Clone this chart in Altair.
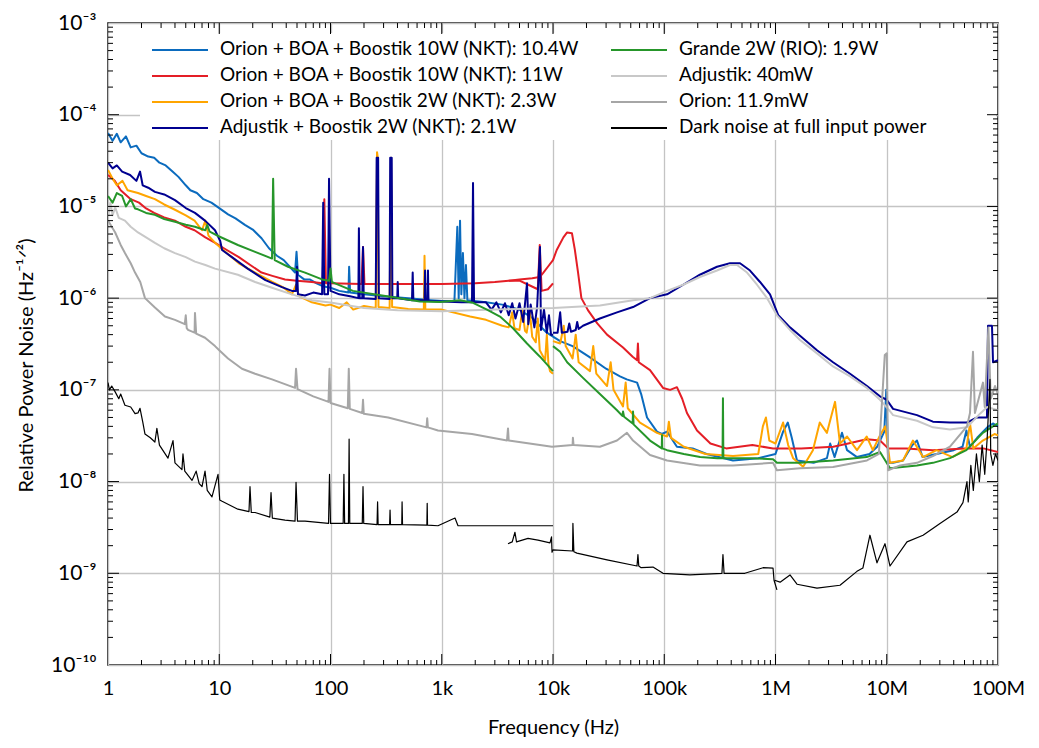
import altair as alt
import pandas as pd

W, H = 890, 642

SERIES = [
    "Orion + BOA + Boostik 10W (NKT): 10.4W",
    "Orion + BOA + Boostik 10W (NKT): 11W",
    "Orion + BOA + Boostik 2W (NKT): 2.3W",
    "Adjustik + Boostik 2W (NKT): 2.1W",
    "Grande 2W (RIO): 1.9W",
    "Adjustik: 40mW",
    "Orion: 11.9mW",
    "Dark noise at full input power",
]
COLORS = ["#0B6BBE", "#E41E26", "#FFA500", "#000090", "#26962A", "#C8C8C8", "#A6A6A6", "#000000"]
WIDTHS = [2, 2, 2, 2, 2, 2, 2, 1.2]

X_TICKS = [1, 10, 100, 1e3, 1e4, 1e5, 1e6, 1e7, 1e8]
X_LABELS = ["1", "10", "100", "1k", "10k", "100k", "1M", "10M", "100M"]
Y_TICKS = [1e-10, 1e-9, 1e-8, 1e-7, 1e-6, 1e-5, 1e-4, 1e-3]
Y_LABELS = ["10⁻¹⁰", "10⁻⁹", "10⁻⁸", "10⁻⁷", "10⁻⁶", "10⁻⁵", "10⁻⁴", "10⁻³"]

# ---- series: (frequency Hz, relative power noise) ----
blue = [
    (1.0, 6.3e-5), (1.1, 5.2e-5), (1.2, 6.2e-5), (1.3, 5.0e-5), (1.45, 5.8e-5), (1.6, 4.4e-5),
    (1.8, 4.6e-5), (2.0, 3.8e-5), (2.3, 3.5e-5), (2.6, 3.4e-5), (2.9, 3.0e-5), (3.3, 2.8e-5),
    (3.8, 2.4e-5), (4.3, 2.1e-5), (5.0, 1.7e-5), (5.5, 1.5e-5), (6.3, 1.4e-5), (7.2, 1.2e-5),
    (8.5, 1.1e-5), (10, 9.6e-6), (12, 8.2e-6), (14, 7.4e-6), (17, 6.3e-6), (20, 5.6e-6),
    (24, 4.5e-6), (28, 3.5e-6), (33, 2.9e-6), (38, 2.6e-6), (43, 2.2e-6), (48, 1.9e-6),
    (49.5, 3.2e-6), (51, 1.8e-6), (58, 1.6e-6), (65, 1.6e-6), (75, 1.45e-6), (85, 1.35e-6),
    (100, 1.3e-6), (120, 1.2e-6), (145, 1.15e-6), (147, 2.2e-6), (150, 1.15e-6), (200, 1.1e-6),
    (300, 1.05e-6), (500, 1.0e-6), (800, 9.5e-7), (1000, 9.3e-7), (1300, 9.3e-7), (1380, 6e-6),
    (1420, 1e-6), (1460, 7e-6), (1500, 1.1e-6), (1550, 3.1e-6), (1600, 1.0e-6), (1650, 2.3e-6),
    (1700, 9.5e-7), (2500, 9e-7), (3500, 8.5e-7), (5000, 7.5e-7), (6600, 6e-7), (7600, 5e-7),
    (8800, 4.2e-7), (10000, 3.8e-7), (11600, 3.4e-7), (15000, 3.0e-7), (21000, 2.3e-7),
    (30000, 1.7e-7), (40000, 1.4e-7), (46000, 1.3e-7), (57000, 1.2e-7), (62000, 9e-8),
    (70000, 5e-8), (86000, 3.5e-8), (95000, 3.3e-8), (106000, 3.5e-8), (130000, 2.4e-8),
    (180000, 2.3e-8), (240000, 2e-8), (415000, 1.7e-8), (700000, 1.8e-8), (1.0e6, 2e-8),
    (1.17e6, 3.5e-8), (1.29e6, 4.4e-8), (1.4e6, 3e-8), (1.56e6, 1.7e-8), (2.2e6, 1.6e-8),
    (2.9e6, 1.8e-8), (3.1e6, 2.6e-8), (3.4e6, 1.85e-8), (3.96e6, 3.4e-8), (4.4e6, 2.2e-8),
    (5.4e6, 1.85e-8), (7.0e6, 2e-8), (8.2e6, 2.4e-8), (9.5e6, 3.5e-8), (9.9e6, 1.0e-7),
    (10.3e6, 1.6e-8), (11.4e6, 1.6e-8), (14e6, 1.7e-8), (17e6, 2.5e-8), (18.7e6, 2.8e-8),
    (21e6, 1.85e-8), (28e6, 2e-8), (40e6, 2.2e-8), (48e6, 2.4e-8), (52e6, 3.6e-8), (56e6, 2.4e-8),
    (65e6, 3e-8), (80e6, 3.9e-8), (90e6, 4.3e-8), (100e6, 4e-8),
]

red_a = [
    (1, 2.2e-5), (1.15, 1.9e-5), (1.3, 1.5e-5), (1.6, 1.2e-5), (1.9, 1.1e-5), (2.2, 9.5e-6),
    (2.6, 8.5e-6), (3.2, 7.6e-6), (4.0, 7e-6), (5.0, 6e-6), (6.0, 5.5e-6), (7.5, 4.6e-6),
    (9.2, 4e-6), (11, 3.5e-6), (15, 2.8e-6), (19, 2.3e-6), (24, 1.9e-6), (30, 1.75e-6),
    (39, 1.6e-6), (50, 1.55e-6), (68, 1.5e-6), (85, 1.45e-6), (88, 1.2e-5), (91, 1.45e-6),
    (100, 1.45e-6), (190, 1.43e-6), (196, 3.6e-6), (202, 1.43e-6), (400, 1.43e-6),
    (1000, 1.43e-6), (2000, 1.45e-6), (3000, 1.5e-6), (4000, 1.55e-6), (5000, 1.55e-6),
    (6000, 1.4e-6), (7300, 1.25e-6), (7600, 3.8e-6), (7900, 1.2e-6), (9000, 1.25e-6),
    (10000, 1.45e-6),
]
red_b = [
    (4000, 1.55e-6), (5000, 1.6e-6), (6500, 1.65e-6), (7600, 1.7e-6), (8200, 1.9e-6),
    (9000, 2.2e-6), (10000, 2.6e-6), (10800, 3.35e-6), (12400, 4.6e-6), (13400, 5.2e-6),
    (14800, 5.1e-6), (15700, 3.4e-6), (16800, 1.9e-6), (18000, 1.0e-6), (20600, 7.4e-7),
    (25000, 5.3e-7), (30600, 4e-7), (42600, 2.9e-7), (52000, 2.3e-7), (57000, 2.1e-7),
    (58000, 3.2e-7), (59000, 2.0e-7), (74500, 1.64e-7), (97500, 1.05e-7), (113000, 1.0e-7),
    (130000, 1.07e-7), (145000, 8e-8), (160000, 5.6e-8), (197000, 3.6e-8), (260000, 2.6e-8),
    (360000, 2.3e-8), (620000, 2.5e-8), (950000, 2.3e-8), (1.7e6, 2.3e-8), (3.3e6, 2.4e-8),
    (4.5e6, 2.6e-8), (6.6e6, 2.9e-8), (8.7e6, 2.8e-8), (10.3e6, 2.3e-8), (15e6, 2.3e-8),
    (26e6, 2.2e-8), (50e6, 2.3e-8), (74e6, 2.3e-8), (100e6, 2.1e-8),
]

orange_a = [
    (1, 2.5e-5), (1.1, 2.0e-5), (1.2, 1.7e-5), (1.35, 1.9e-5), (1.5, 1.5e-5), (1.86, 1.4e-5),
    (2.2, 1.3e-5), (2.64, 1.2e-5), (3.2, 1.05e-5), (4.0, 9.2e-6), (5.0, 8e-6), (6.0, 7e-6),
    (7.0, 5.5e-6), (7.5, 7e-6), (8.0, 4.8e-6), (9.2, 4e-6), (11, 3.3e-6), (15, 2.4e-6),
    (21, 1.9e-6), (30, 1.5e-6), (38, 1.3e-6), (45, 1.1e-6), (49, 1.4e-6), (52, 1.05e-6),
    (68, 9e-7), (90, 8.3e-7), (100, 8.5e-7), (120, 7.8e-7), (140, 9e-7), (160, 7.5e-7),
    (200, 8.2e-7), (255, 7.8e-7), (262, 3.9e-5), (266, 3.4e-5), (270, 8e-7), (340, 7.8e-7),
    (350, 3.4e-5), (358, 8e-7), (500, 7.6e-7), (690, 7.5e-7), (700, 2.9e-6), (712, 7.5e-7),
    (1000, 7.5e-7), (1800, 6.3e-7), (2500, 5.8e-7), (3500, 5e-7), (4000, 4.8e-7),
    (4300, 7e-7), (4500, 4.7e-7), (5000, 4.5e-7), (5300, 7.5e-7), (5600, 4.4e-7),
    (5800, 4.2e-7), (6200, 7e-7), (6500, 3.8e-7), (7000, 3.3e-7), (7300, 6e-7), (7600, 2.7e-7),
    (8500, 2.1e-7), (8800, 4e-7), (9100, 1.9e-7), (9400, 1.6e-7), (10000, 1.5e-7),
]
orange_b = [
    (10000, 3.4e-7), (11600, 3.2e-7), (12500, 5e-7), (13000, 3e-7), (15000, 2.2e-7),
    (16000, 4e-7), (17000, 2e-7), (21500, 1.6e-7), (23000, 3e-7), (24500, 1.5e-7),
    (30600, 1.1e-7), (33000, 2e-7), (35000, 1e-7), (42600, 6.6e-8), (45000, 1.2e-7),
    (47000, 6.3e-8), (60500, 4.4e-8), (86000, 3.4e-8), (106000, 3.1e-8), (110000, 4.5e-8),
    (115000, 3e-8), (150000, 2.4e-8), (235000, 2e-8), (415000, 1.9e-8), (700000, 2.0e-8),
    (770000, 4e-8), (820000, 5e-8), (880000, 2.8e-8), (1.0e6, 2.6e-8), (1.17e6, 4.4e-8),
    (1.3e6, 2.5e-8), (1.44e6, 1.8e-8), (1.77e6, 1.45e-8), (2.17e6, 2.2e-8), (2.5e6, 4.4e-8),
    (2.9e6, 3.4e-8), (3.43e6, 7.4e-8), (3.8e6, 2.6e-8), (4.4e6, 3.1e-8), (5.4e6, 2.2e-8),
    (6.6e6, 3.1e-8), (7.5e6, 2.2e-8), (8.6e6, 3.1e-8), (9.7e6, 4e-8), (10.7e6, 1.6e-8),
    (14e6, 1.7e-8), (17.2e6, 2.8e-8), (21.2e6, 1.85e-8), (28e6, 2.2e-8), (39e6, 1.85e-8),
    (52e6, 2.3e-8), (56e6, 4.3e-8), (60e6, 2.3e-8), (73e6, 2.8e-8), (93e6, 3.3e-8),
    (100e6, 3.2e-8),
]

navy_a = [
    (1, 3.0e-5), (1.1, 2.6e-5), (1.2, 2.8e-5), (1.34, 2.4e-5), (1.58, 2.2e-5), (1.8, 1.9e-5),
    (1.94, 2.4e-5), (2.05, 1.7e-5), (2.3, 1.6e-5), (2.64, 1.44e-5), (3.2, 1.35e-5),
    (4.0, 1.17e-5), (5.0, 9.6e-6), (6.05, 8.5e-6), (7.45, 7e-6), (9.16, 5.5e-6), (10.2, 4.2e-6),
    (10.6, 3.35e-6), (13, 2.8e-6), (18, 2.1e-6), (26, 1.57e-6), (36.6, 1.32e-6), (45, 1.2e-6),
    (49, 1.2e-6), (50, 2.2e-6), (51, 1.1e-6), (59, 1.07e-6), (70, 1.15e-6), (84, 1.1e-6),
    (86, 1.1e-5), (88, 1.1e-6), (95, 1.1e-6), (97, 2e-5), (100, 1.2e-6), (120, 1.1e-6),
    (150, 1.05e-6), (178, 1.0e-6), (180, 5.8e-6), (183, 1.0e-6), (193, 1.0e-6), (196, 3.6e-6),
    (199, 1.0e-6), (255, 9.8e-7), (260, 3.4e-5), (268, 3.4e-5), (272, 1e-6), (340, 9.8e-7),
    (344, 3.4e-5), (355, 3.4e-5), (360, 1e-6), (398, 1e-6), (402, 1.5e-6), (406, 1e-6),
    (540, 9.5e-7), (548, 1.9e-6), (556, 9.5e-7), (700, 9.5e-7), (708, 2e-6), (716, 9.4e-7),
    (745, 9.3e-7), (752, 2e-6), (760, 9.3e-7), (1000, 9.2e-7), (1500, 9e-7), (1870, 9e-7),
    (1910, 1.8e-5), (1950, 9e-7), (2500, 9e-7), (2800, 7.5e-7), (3100, 9e-7), (3400, 7e-7),
    (3700, 8.8e-7), (4000, 6.5e-7), (4300, 8.8e-7), (4600, 6e-7), (5000, 8.8e-7), (5400, 5.5e-7),
    (5840, 1.45e-6), (6000, 5.2e-7), (6300, 8.5e-7), (6800, 4.8e-7), (7200, 8e-7),
    (7640, 3.6e-6), (7800, 4.5e-7), (8300, 7.5e-7), (8800, 4.2e-7), (9200, 6.5e-7),
    (9600, 4e-7), (10000, 4.0e-7),
]
navy_b = [
    (10000, 4.2e-7), (11000, 4.2e-7), (11600, 7e-7), (12000, 4.2e-7), (13500, 4.3e-7),
    (14000, 5.3e-7), (14500, 4.3e-7), (16000, 4.5e-7), (16500, 5.5e-7), (17000, 4.6e-7),
    (18600, 5e-7), (26400, 6e-7), (37600, 7e-7), (52400, 8e-7), (74500, 1.0e-6),
    (106000, 1.1e-6), (148000, 1.4e-6), (209000, 1.8e-6), (298000, 2.2e-6), (390000, 2.4e-6),
    (480000, 2.4e-6), (590000, 2.0e-6), (726000, 1.5e-6), (893000, 1.1e-6), (1.06e6, 6.5e-7),
    (1.35e6, 4.8e-7), (1.66e6, 3.9e-7), (2.36e6, 2.7e-7), (3.29e6, 2.0e-7), (4.68e6, 1.5e-7),
    (6.64e6, 1.1e-7), (8.69e6, 8.5e-8), (10e6, 7.8e-8), (11.4e6, 6.2e-8), (18.7e6, 5.3e-8),
    (26e6, 4.5e-8), (37e6, 4.4e-8), (52.6e6, 4.4e-8), (64.7e6, 5e-8), (79.6e6, 5e-8),
    (81.3e6, 5e-7), (88.3e6, 5e-7), (90.2e6, 2e-7), (100e6, 2.1e-7),
]

green_a = [
    (1, 1.3e-5), (1.1, 1.1e-5), (1.2, 1.4e-5), (1.34, 1.3e-5), (1.45, 1.0e-5), (1.6, 1.2e-5),
    (1.75, 9.5e-6), (1.86, 9.3e-6), (2.2, 8.5e-6), (2.64, 8.1e-6), (3.2, 7.3e-6), (4.0, 6.8e-6),
    (5.0, 6.3e-6), (6.05, 6.0e-6), (7.5, 5.5e-6), (7.8, 6.3e-6), (8.2, 5.3e-6), (10, 4.7e-6),
    (14.7, 3.8e-6), (21, 3.2e-6), (29.8, 2.7e-6), (30.5, 2.0e-5), (31.5, 2.6e-6),
    (41.5, 2.2e-6), (59, 1.9e-6), (84, 1.6e-6), (97, 1.55e-6), (100, 2.1e-6), (103, 1.5e-6),
    (110, 1.45e-6), (159, 1.2e-6), (322, 1.05e-6), (637, 9.2e-7), (965, 9.1e-7),
    (1460, 9.5e-7), (1910, 8.9e-7), (2550, 7.5e-7), (3340, 6.3e-7), (4370, 4.7e-7),
    (5840, 3.2e-7), (7640, 2.3e-7), (10000, 1.6e-7),
]
green_b = [
    (10000, 3.0e-7), (11600, 2.6e-7), (13400, 2.0e-7), (18600, 1.35e-7), (26400, 9e-8),
    (37600, 6e-8), (42000, 5.2e-8), (42600, 5.8e-8), (43500, 5.1e-8), (52000, 4.3e-8),
    (52400, 5.8e-8), (53000, 4.2e-8), (74500, 2.8e-8), (95000, 2.3e-8), (95500, 3.2e-8),
    (96000, 2.3e-8), (106000, 2.2e-8), (150000, 2.0e-8), (210000, 1.85e-8), (300000, 1.8e-8),
    (334000, 1.8e-8), (337000, 8.1e-8), (340000, 1.8e-8), (600000, 1.8e-8), (950000, 1.75e-8),
    (1.03e6, 1.6e-8), (1.66e6, 1.6e-8), (3.3e6, 1.7e-8), (6.6e6, 1.85e-8), (8.7e6, 2.1e-8),
    (10.7e6, 1.4e-8), (18.7e6, 1.5e-8), (26e6, 1.6e-8), (37e6, 1.8e-8), (52e6, 2.2e-8),
    (73e6, 3.4e-8), (90e6, 4e-8), (100e6, 4.3e-8),
]

adjustik = [
    (1, 7.7e-6), (1.05, 1.1e-5), (1.1, 8e-6), (1.16, 9.8e-6), (1.25, 7.5e-6), (1.42, 7e-6),
    (1.6, 6e-6), (1.86, 5.2e-6), (2.2, 4.6e-6), (2.64, 4e-6), (3.2, 3.5e-6), (4.0, 3.1e-6),
    (5.0, 2.8e-6), (6.05, 2.5e-6), (7.5, 2.3e-6), (9.16, 2.1e-6), (14.7, 1.8e-6), (21, 1.5e-6),
    (29.8, 1.3e-6), (45, 1.1e-6), (68, 9.5e-7), (103, 8.9e-7), (200, 7.8e-7), (400, 7.4e-7),
    (1000, 7.2e-7), (3000, 7.5e-7), (10000, 7.8e-7), (26400, 8.3e-7), (52400, 9.5e-7),
    (74500, 1.0e-6), (106000, 1.2e-6), (148000, 1.4e-6), (209000, 1.7e-6), (298000, 2e-6),
    (390000, 2.3e-6), (451000, 2.3e-6), (555000, 1.9e-6), (682000, 1.4e-6), (840000, 1.0e-6),
    (1.03e6, 6.5e-7), (1.35e6, 4.5e-7), (1.66e6, 3.5e-7), (2.36e6, 2.5e-7), (3.29e6, 1.8e-7),
    (4.68e6, 1.4e-7), (6.64e6, 1.05e-7), (8.69e6, 7.8e-8), (10.5e6, 6e-8), (11.4e6, 5.3e-8),
    (18.7e6, 4.6e-8), (26e6, 3.9e-8), (37e6, 3.7e-8), (52.6e6, 3.9e-8), (68.9e6, 5.5e-8),
    (80e6, 6.5e-8), (100e6, 6e-8),
]

orion = [
    (1, 7e-6), (1.08, 6e-6), (1.16, 5.2e-6), (1.3, 3.8e-6), (1.42, 3.1e-6), (1.6, 2.4e-6),
    (1.75, 1.9e-6), (1.95, 1.5e-6), (2.15, 1.0e-6), (2.64, 7.9e-7), (3.25, 6.3e-7), (4.0, 5.8e-7),
    (4.9, 5.2e-7), (5.0, 6.5e-7), (5.1, 4.7e-7), (5.24, 4.5e-7), (6.0, 4.2e-7), (6.05, 6.9e-7),
    (6.2, 4.1e-7), (7.45, 3.7e-7), (9.16, 3.0e-7), (10, 2.7e-7), (12, 2.2e-7), (16, 1.7e-7),
    (21, 1.5e-7), (29.8, 1.3e-7), (48, 1.05e-7), (49, 1.7e-7), (50.5, 1.02e-7), (70, 8.5e-8),
    (96, 7.4e-8), (98, 1.7e-7), (100, 7.2e-8), (143, 6.3e-8), (146, 1.7e-7), (149, 6.2e-8),
    (193, 5.6e-8), (196, 7.8e-8), (199, 5.5e-8), (330, 5e-8), (730, 3.9e-8), (740, 4.9e-8),
    (750, 3.9e-8), (925, 3.6e-8), (1870, 3.3e-8), (3860, 2.8e-8), (3940, 3.8e-8),
    (4000, 2.8e-8), (9800, 2.4e-8), (15000, 2.5e-8), (15100, 3e-8), (15300, 2.5e-8),
    (26400, 2.4e-8), (37600, 2.8e-8), (46200, 3.4e-8), (52400, 2.8e-8), (74500, 1.95e-8),
    (106000, 1.7e-8), (209000, 1.5e-8), (415000, 1.5e-8), (950000, 1.6e-8), (1.03e6, 1.33e-8),
    (1.66e6, 1.4e-8), (3.29e6, 1.44e-8), (6.64e6, 1.7e-8), (8.5e6, 2e-8), (9.6e6, 2.4e-7),
    (10e6, 2.5e-7), (10.3e6, 1.33e-8), (13.2e6, 1.5e-8), (18.7e6, 1.6e-8), (26e6, 1.9e-8),
    (37e6, 2.4e-8), (52.6e6, 4e-8), (56e6, 5.6e-8), (59.6e6, 2.6e-7), (62e6, 5.6e-8),
    (73.3e6, 1.2e-7), (76e6, 6.5e-8), (82e6, 4.8e-7), (86e6, 8e-8), (94e6, 1.1e-7),
    (100e6, 9e-8),
]

dark_a = [
    (1, 1.2e-7), (1.03, 1.0e-7), (1.08, 1.1e-7), (1.16, 9.5e-8), (1.25, 8e-8), (1.3, 9e-8),
    (1.42, 6.8e-8), (1.6, 6.5e-8), (1.75, 5.5e-8), (1.86, 5.6e-8), (1.94, 6.3e-8),
    (2.05, 4.5e-8), (2.15, 3.3e-8), (2.4, 3.0e-8), (2.64, 2.7e-8), (2.75, 3.8e-8),
    (2.9, 2.5e-8), (3.46, 1.8e-8), (3.84, 2.8e-8), (4.0, 1.6e-8), (4.62, 1.35e-8),
    (4.72, 2.0e-8), (4.9, 1.3e-8), (5.69, 1.03e-8), (6.2, 1.3e-8), (6.6, 9.5e-9), (7.0, 8.8e-9),
    (7.45, 1.3e-8), (7.8, 8e-9), (8.6, 6.8e-9), (9.75, 1.2e-8), (10.1, 6.3e-9), (10.6, 6.1e-9),
    (14.7, 5e-9), (18.5, 4.7e-9), (18.9, 8.8e-9), (19.4, 4.6e-9), (21, 4.6e-9), (28.5, 4.1e-9),
    (29.2, 7.6e-9), (30, 4e-9), (39, 3.8e-9), (48, 3.7e-9), (49, 9.8e-9), (50.5, 3.7e-9),
    (59, 3.7e-9), (96, 3.5e-9), (98, 1.2e-8), (100, 3.5e-9), (130, 3.5e-9), (132, 1.2e-8),
    (134, 3.5e-9), (145, 3.5e-9), (147, 2.9e-8), (149, 3.5e-9), (193, 3.5e-9), (196, 8.8e-9),
    (199, 3.5e-9), (262, 3.4e-9), (265, 6e-9), (268, 3.4e-9), (340, 3.4e-9), (343, 4.9e-9),
    (346, 3.4e-9), (437, 3.4e-9), (440, 6e-9), (444, 3.4e-9), (735, 3.35e-9), (740, 5.8e-9),
    (745, 3.35e-9), (925, 3.3e-9), (1315, 4e-9), (1400, 3.3e-9), (1870, 3.3e-9),
    (3700, 3.3e-9), (10000, 3.3e-9),
]
dark_b = [
    (3940, 2.1e-9), (4300, 2.2e-9), (4550, 2.8e-9), (4700, 2.2e-9), (5960, 2.4e-9),
    (7330, 2.3e-9), (9400, 2.15e-9), (9700, 2.5e-9), (9800, 1.7e-9), (10000, 1.8e-9),
    (15000, 1.75e-9), (15100, 3.5e-9), (15400, 1.72e-9), (16400, 1.66e-9), (30600, 1.4e-9),
    (56900, 1.2e-9), (58000, 1.6e-9), (59000, 1.2e-9), (62000, 1.15e-9), (79200, 1.17e-9),
    (97500, 1.0e-9), (170000, 9.6e-10), (330000, 1.0e-9), (337000, 1.6e-9), (345000, 1.0e-9),
    (530000, 1.0e-9), (773000, 1.15e-9), (950000, 1.14e-9), (970000, 8.4e-10),
    (1.03e6, 6.6e-10),
]
dark_c = [
    (0.98e6, 8.4e-10), (1.1e6, 8e-10), (1.35e6, 9.6e-10), (1.56e6, 7.6e-10), (2.36e6, 6.9e-10),
    (3.8e6, 7.4e-10), (5.4e6, 1.05e-9), (6.1e6, 1.14e-9), (7.06e6, 2.6e-9), (8.17e6, 1.3e-9),
    (9.64e6, 2.1e-9), (10.7e6, 1.2e-9), (15.2e6, 2.2e-9), (21.2e6, 2.6e-9), (30.1e6, 3.5e-9),
    (42.8e6, 4.65e-9), (48.4e6, 5.9e-9), (52.6e6, 1.0e-8), (54e6, 6e-9), (57e6, 1.5e-8),
    (60e6, 8e-9), (64e6, 2e-8), (68e6, 1e-8), (72e6, 2.5e-8), (76e6, 1.2e-8), (80e6, 3e-8),
    (84.7e6, 1.3e-7), (86e6, 2e-8), (90e6, 1.5e-8), (95e6, 2e-8), (100e6, 1.7e-8),
]

SEGMENTS = {
    SERIES[0]: [blue],
    SERIES[1]: [red_a, red_b],
    SERIES[2]: [orange_a, orange_b],
    SERIES[3]: [navy_a, navy_b],
    SERIES[4]: [green_a, green_b],
    SERIES[5]: [adjustik],
    SERIES[6]: [orion],
    SERIES[7]: [dark_a, dark_b, dark_c],
}
DRAW_ORDER = [0, 1, 2, 3, 5, 4, 6, 7]

rows = []
for name, segs in SEGMENTS.items():
    for k, seg in enumerate(segs):
        for f, v in seg:
            rows.append({"series": name, "seg": f"{name}#{k}", "f": f, "v": v})
df = pd.DataFrame(rows)

FONT = "Lato"
X_TITLE = "Frequency (Hz)"
Y_TITLE = "Relative Power Noise (Hz⁻¹ᐟ²)"
xscale = alt.Scale(type="log", domain=[1, 1e8], nice=False)
yscale = alt.Scale(type="log", domain=[1e-10, 1e-3], nice=False)
cscale = alt.Scale(domain=SERIES, range=COLORS)

x_label_expr = "[" + ",".join(f"'{s}'" for s in X_LABELS) + "][round(log(datum.value)/LN10)]"
y_label_expr = "[" + ",".join(f"'{s}'" for s in Y_LABELS) + "][round(log(datum.value)/LN10)+10]"

xaxis = alt.Axis(
    values=X_TICKS, labelExpr=x_label_expr, grid=True, ticks=False, domain=False,
    labelFontSize=20, labelPadding=13, labelFlush=False, labelOverlap=False,
    titleFontSize=20, titleX=W / 2, titleY=62, titleBaseline="middle",
)
yaxis = alt.Axis(
    values=Y_TICKS, labelExpr=y_label_expr, grid=True, ticks=False, domain=False,
    labelFontSize=21, labelPadding=12, labelFlush=False, labelOverlap=False,
    titleFontSize=20, titleX=-82, titleY=342, titleAngle=270, titleAlign="center",
    titleBaseline="middle",
)


def X(field):
    return alt.X(field, scale=xscale, axis=xaxis, title=X_TITLE)


def Y(field):
    return alt.Y(field, scale=yscale, axis=yaxis, title=Y_TITLE)


layers = []
for i in DRAW_ORDER:
    name = SERIES[i]
    layers.append(
        alt.Chart(df[df["series"] == name])
        .mark_line(strokeWidth=WIDTHS[i], clip=True, strokeJoin="round")
        .encode(
            x=X("f:Q"),
            y=Y("v:Q"),
            color=alt.Color("series:N", scale=cscale, legend=None),
            detail="seg:N",
        )
    )

# legend box (white background, hides grid)
layers.append(
    alt.Chart(pd.DataFrame({"a": [0]})).mark_rect(fill="white").encode(
        x=alt.value(32), x2=alt.value(W - 2), y=alt.value(10), y2=alt.value(117)
    )
)
# legend entries (two columns of four)
leg_rows = []
for i, name in enumerate(SERIES):
    col, row = divmod(i, 4)
    x0 = 44 + col * 459
    yy = 27 + row * 26
    leg_rows.append({"series": name, "x0": x0, "x1": x0 + 56, "tx": x0 + 68, "yy": yy})
leg = pd.DataFrame(leg_rows)
layers.append(
    alt.Chart(leg).mark_rule(strokeWidth=2).encode(
        x=alt.X("x0:Q", scale=None), x2="x1:Q", y=alt.Y("yy:Q", scale=None),
        color=alt.Color("series:N", scale=cscale, legend=None),
    )
)
layers.append(
    alt.Chart(leg).mark_text(align="left", baseline="middle", fontSize=19, font=FONT, color="black", dy=-1).encode(
        x=alt.X("tx:Q", scale=None), y=alt.Y("yy:Q", scale=None), text="series:N"
    )
)

# inward ticks on all four sides
minor_x = [m * 10 ** e for e in range(0, 8) for m in range(2, 10)]
major_x = [10 ** e for e in range(1, 8)]
minor_y = [m * 10.0 ** e for e in range(-10, -3) for m in range(2, 10)]
major_y = [10.0 ** e for e in range(-9, -3)]
for vals, ln in ((minor_x, 5), (major_x, 11)):
    tdf = pd.DataFrame({"f": vals})
    for a, b in ((H, H - ln), (0, ln)):
        layers.append(
            alt.Chart(tdf).mark_rule(color="black", strokeWidth=1).encode(
                x=X("f:Q"), y=alt.value(a), y2=alt.value(b)
            )
        )
for vals, ln in ((minor_y, 5), (major_y, 11)):
    tdf = pd.DataFrame({"v": vals})
    for a, b in ((0, ln), (W, W - ln)):
        layers.append(
            alt.Chart(tdf).mark_rule(color="black", strokeWidth=1).encode(
                y=Y("v:Q"), x=alt.value(a), x2=alt.value(b)
            )
        )

chart = (
    alt.layer(*layers)
    .properties(
        width=W, height=H,
        padding={"left": 100, "top": 15, "right": 33, "bottom": 75},
        autosize=alt.AutoSizeParams(type="none"),
    )
    .configure_view(stroke="black", strokeWidth=1.5)
    .configure_axis(
        labelFont=FONT, titleFont=FONT, labelColor="black", titleColor="black",
        titleFontWeight="normal", gridColor="#C4C4C4", gridWidth=1.3,
    )
)

chart.save("out.html", embed_options={"renderer": "svg", "actions": False})
